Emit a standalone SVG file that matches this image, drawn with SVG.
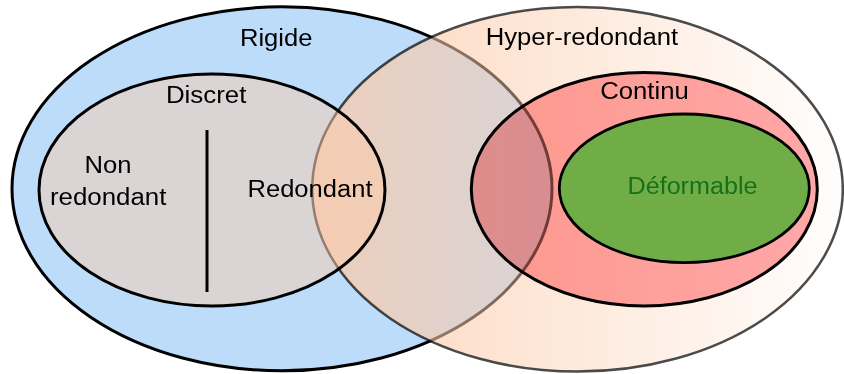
<svg xmlns="http://www.w3.org/2000/svg" width="844" height="374" viewBox="0 0 844 374">
<defs>
<linearGradient id="hyperGrad" x1="0" y1="0" x2="1" y2="0">
<stop offset="0" stop-color="#fbcaa9" stop-opacity="0.77"/>
<stop offset="1" stop-color="#fbcaa9" stop-opacity="0.03"/>
</linearGradient>
<style>
.lbl{font-family:"Liberation Sans",Arial,sans-serif;font-size:23px;fill:#000;text-anchor:middle}
.outline{stroke:#000;stroke-width:3}
</style>
</defs>
<rect width="844" height="374" fill="#ffffff"/>
<g id="rigide">
<ellipse class="outline" cx="282" cy="188.8" rx="270" ry="182" fill="#bddcfa"/>
<text class="lbl" x="276.2" y="45.5" textLength="72.5" lengthAdjust="spacingAndGlyphs">Rigide</text>
</g>
<g id="hyper-redondant">
<ellipse cx="577.5" cy="189.3" rx="265.3" ry="182.3" fill="url(#hyperGrad)" stroke="#000" stroke-opacity="0.7" stroke-width="2.5"/>
<text class="lbl" x="582" y="45" textLength="192.5" lengthAdjust="spacingAndGlyphs">Hyper-redondant</text>
</g>
<g id="discret">
<ellipse class="outline" cx="212" cy="190" rx="173" ry="116" fill="#ffcaa9" fill-opacity="0.45"/>
<text class="lbl" x="206.2" y="103.3" textLength="80.5" lengthAdjust="spacingAndGlyphs">Discret</text>
<line x1="207" y1="130" x2="207" y2="292" stroke="#000" stroke-width="3"/>
<text class="lbl" x="108" y="173.3" textLength="47" lengthAdjust="spacingAndGlyphs">Non</text>
<text class="lbl" x="108.2" y="205.3" textLength="116.5" lengthAdjust="spacingAndGlyphs">redondant</text>
<text class="lbl" x="310" y="197.3" textLength="125" lengthAdjust="spacingAndGlyphs">Redondant</text>
</g>
<g id="continu">
<ellipse class="outline" cx="644.3" cy="189.3" rx="173" ry="116.7" fill="#ffaaac" style="mix-blend-mode:multiply"/>
<text class="lbl" x="644.5" y="99.3" textLength="88.5" lengthAdjust="spacingAndGlyphs">Continu</text>
</g>
<g id="deformable">
<ellipse cx="684.3" cy="188.3" rx="125" ry="74.3" fill="#70ad47" stroke="#000" stroke-width="2.8"/>
<text class="lbl" x="692.5" y="194.3" textLength="130" lengthAdjust="spacingAndGlyphs" style="fill:#17701a">Déformable</text>
</g>
<g id="connectors"/>
</svg>
